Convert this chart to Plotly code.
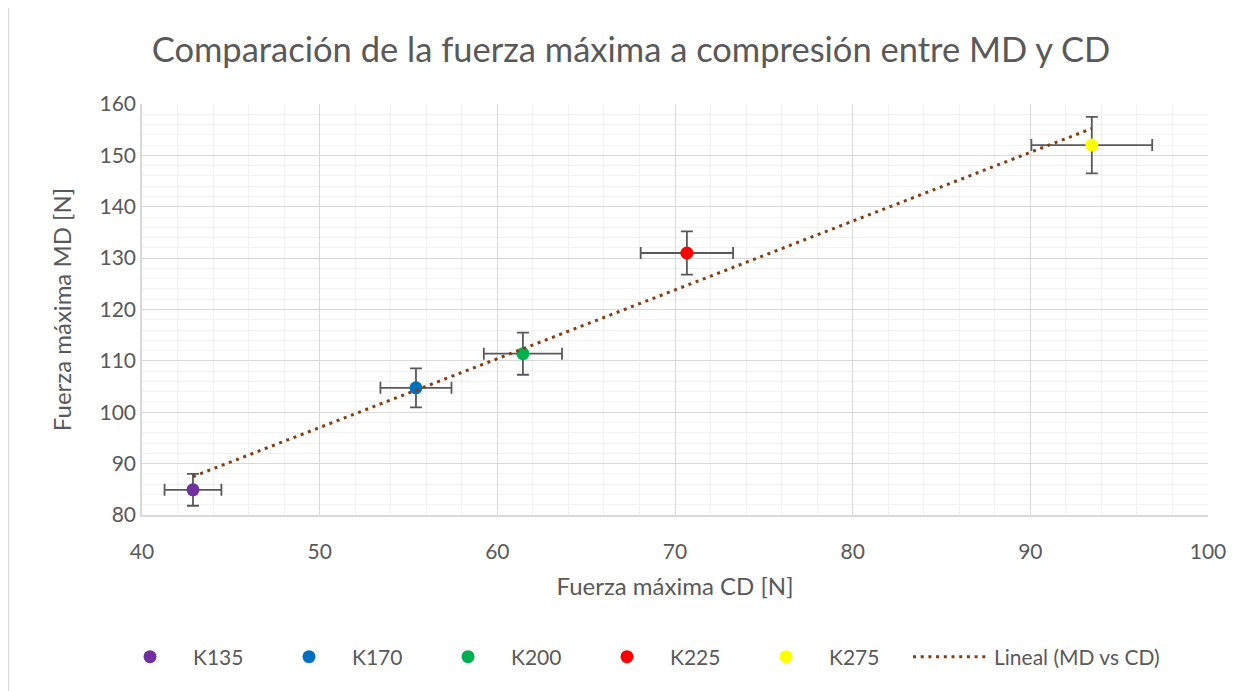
import numpy as np
import plotly.graph_objects as go

names = ["K135", "K170", "K200", "K225", "K275"]
cd = [42.87, 55.42, 61.44, 70.67, 93.46]
md = [84.9, 104.75, 111.4, 131.0, 152.0]
cd_err = [1.6, 2.0, 2.2, 2.6, 3.4]
md_err = [3.1, 3.8, 4.1, 4.2, 5.5]
colors = ["#7030A0", "#0070C0", "#00B050", "#FF0000", "#FFFF00"]

FONT = "Lato"
GREY = "#595959"
W, H = 1246, 683
L, R, T, B = 134, 46, 96, 176
PW, PH = W - L - R, H - T - B

fig = go.Figure()
for n, x, y, ex, ey, c in zip(names, cd, md, cd_err, md_err, colors):
    fig.add_trace(go.Scatter(
        x=[x], y=[y], mode="markers", name=n, legend="legend",
        marker=dict(color=c, size=13),
        error_x=dict(type="data", array=[ex], color="#595959", thickness=1.8, width=6),
        error_y=dict(type="data", array=[ey], color="#595959", thickness=1.8, width=6),
    ))

slope, intercept = np.polyfit(cd, md, 1)
tx = [min(cd), max(cd)]
ty = [slope * v + intercept for v in tx]
fig.add_trace(go.Scatter(
    x=tx, y=ty, mode="lines", name="Lineal (MD vs CD)", legend="legend2",
    line=dict(color="#843C0C", width=3, dash="3px,4.7px"),
))

legend_y = -142 / PH
fig.update_layout(
    width=W, height=H,
    paper_bgcolor="white", plot_bgcolor="white",
    font=dict(family=FONT, color=GREY, size=21),
    title=dict(text="Comparación de la fuerza máxima a compresión entre MD y CD",
               x=0.5, xanchor="center", y=1 - 42 / H, yanchor="middle",
               font=dict(size=34.5, color=GREY, family=FONT)),
    margin=dict(l=L, r=R, t=T, b=B),
    showlegend=True,
    legend=dict(orientation="h", x=(99 - L) / PW, xanchor="left",
                y=legend_y, yanchor="middle",
                font=dict(size=21, color=GREY, family=FONT),
                entrywidth=68, itemwidth=76),
    legend2=dict(orientation="h", x=(900 - L) / PW, xanchor="left",
                 y=legend_y, yanchor="middle",
                 font=dict(size=21, color=GREY, family=FONT),
                 itemwidth=76),
    xaxis=dict(range=[40, 100], dtick=10, showgrid=True, gridcolor="#D9D9D9", gridwidth=1.3,
               minor=dict(dtick=2, showgrid=True, gridcolor="#F2F2F2", gridwidth=1.3),
               zeroline=False, showline=True, linecolor="#D9D9D9", linewidth=1.5,
               ticks="", tickfont=dict(size=21, color=GREY), ticklabelstandoff=17,
               title=dict(text="Fuerza máxima CD [N]", font=dict(size=24, color=GREY), standoff=16)),
    yaxis=dict(range=[80, 160], dtick=10, showgrid=True, gridcolor="#D9D9D9", gridwidth=1.3,
               minor=dict(dtick=2, showgrid=True, gridcolor="#F2F2F2", gridwidth=1.3),
               zeroline=False, showline=True, linecolor="#D9D9D9", linewidth=1.5,
               ticks="", tickfont=dict(size=21, color=GREY), ticklabelstandoff=0,
               title=dict(text="Fuerza máxima MD [N]", font=dict(size=24, color=GREY), standoff=21)),
    shapes=[dict(type="rect", xref="paper", yref="paper",
                 x0=-(L - 0.5) / PW, x1=1 + (R + 20) / PW, y0=-(B + 20) / PH, y1=1 + (T + 1.5) / PH,
                 line=dict(color="#D9D9D9", width=1.2))],
)

fig.write_html("out.html")
